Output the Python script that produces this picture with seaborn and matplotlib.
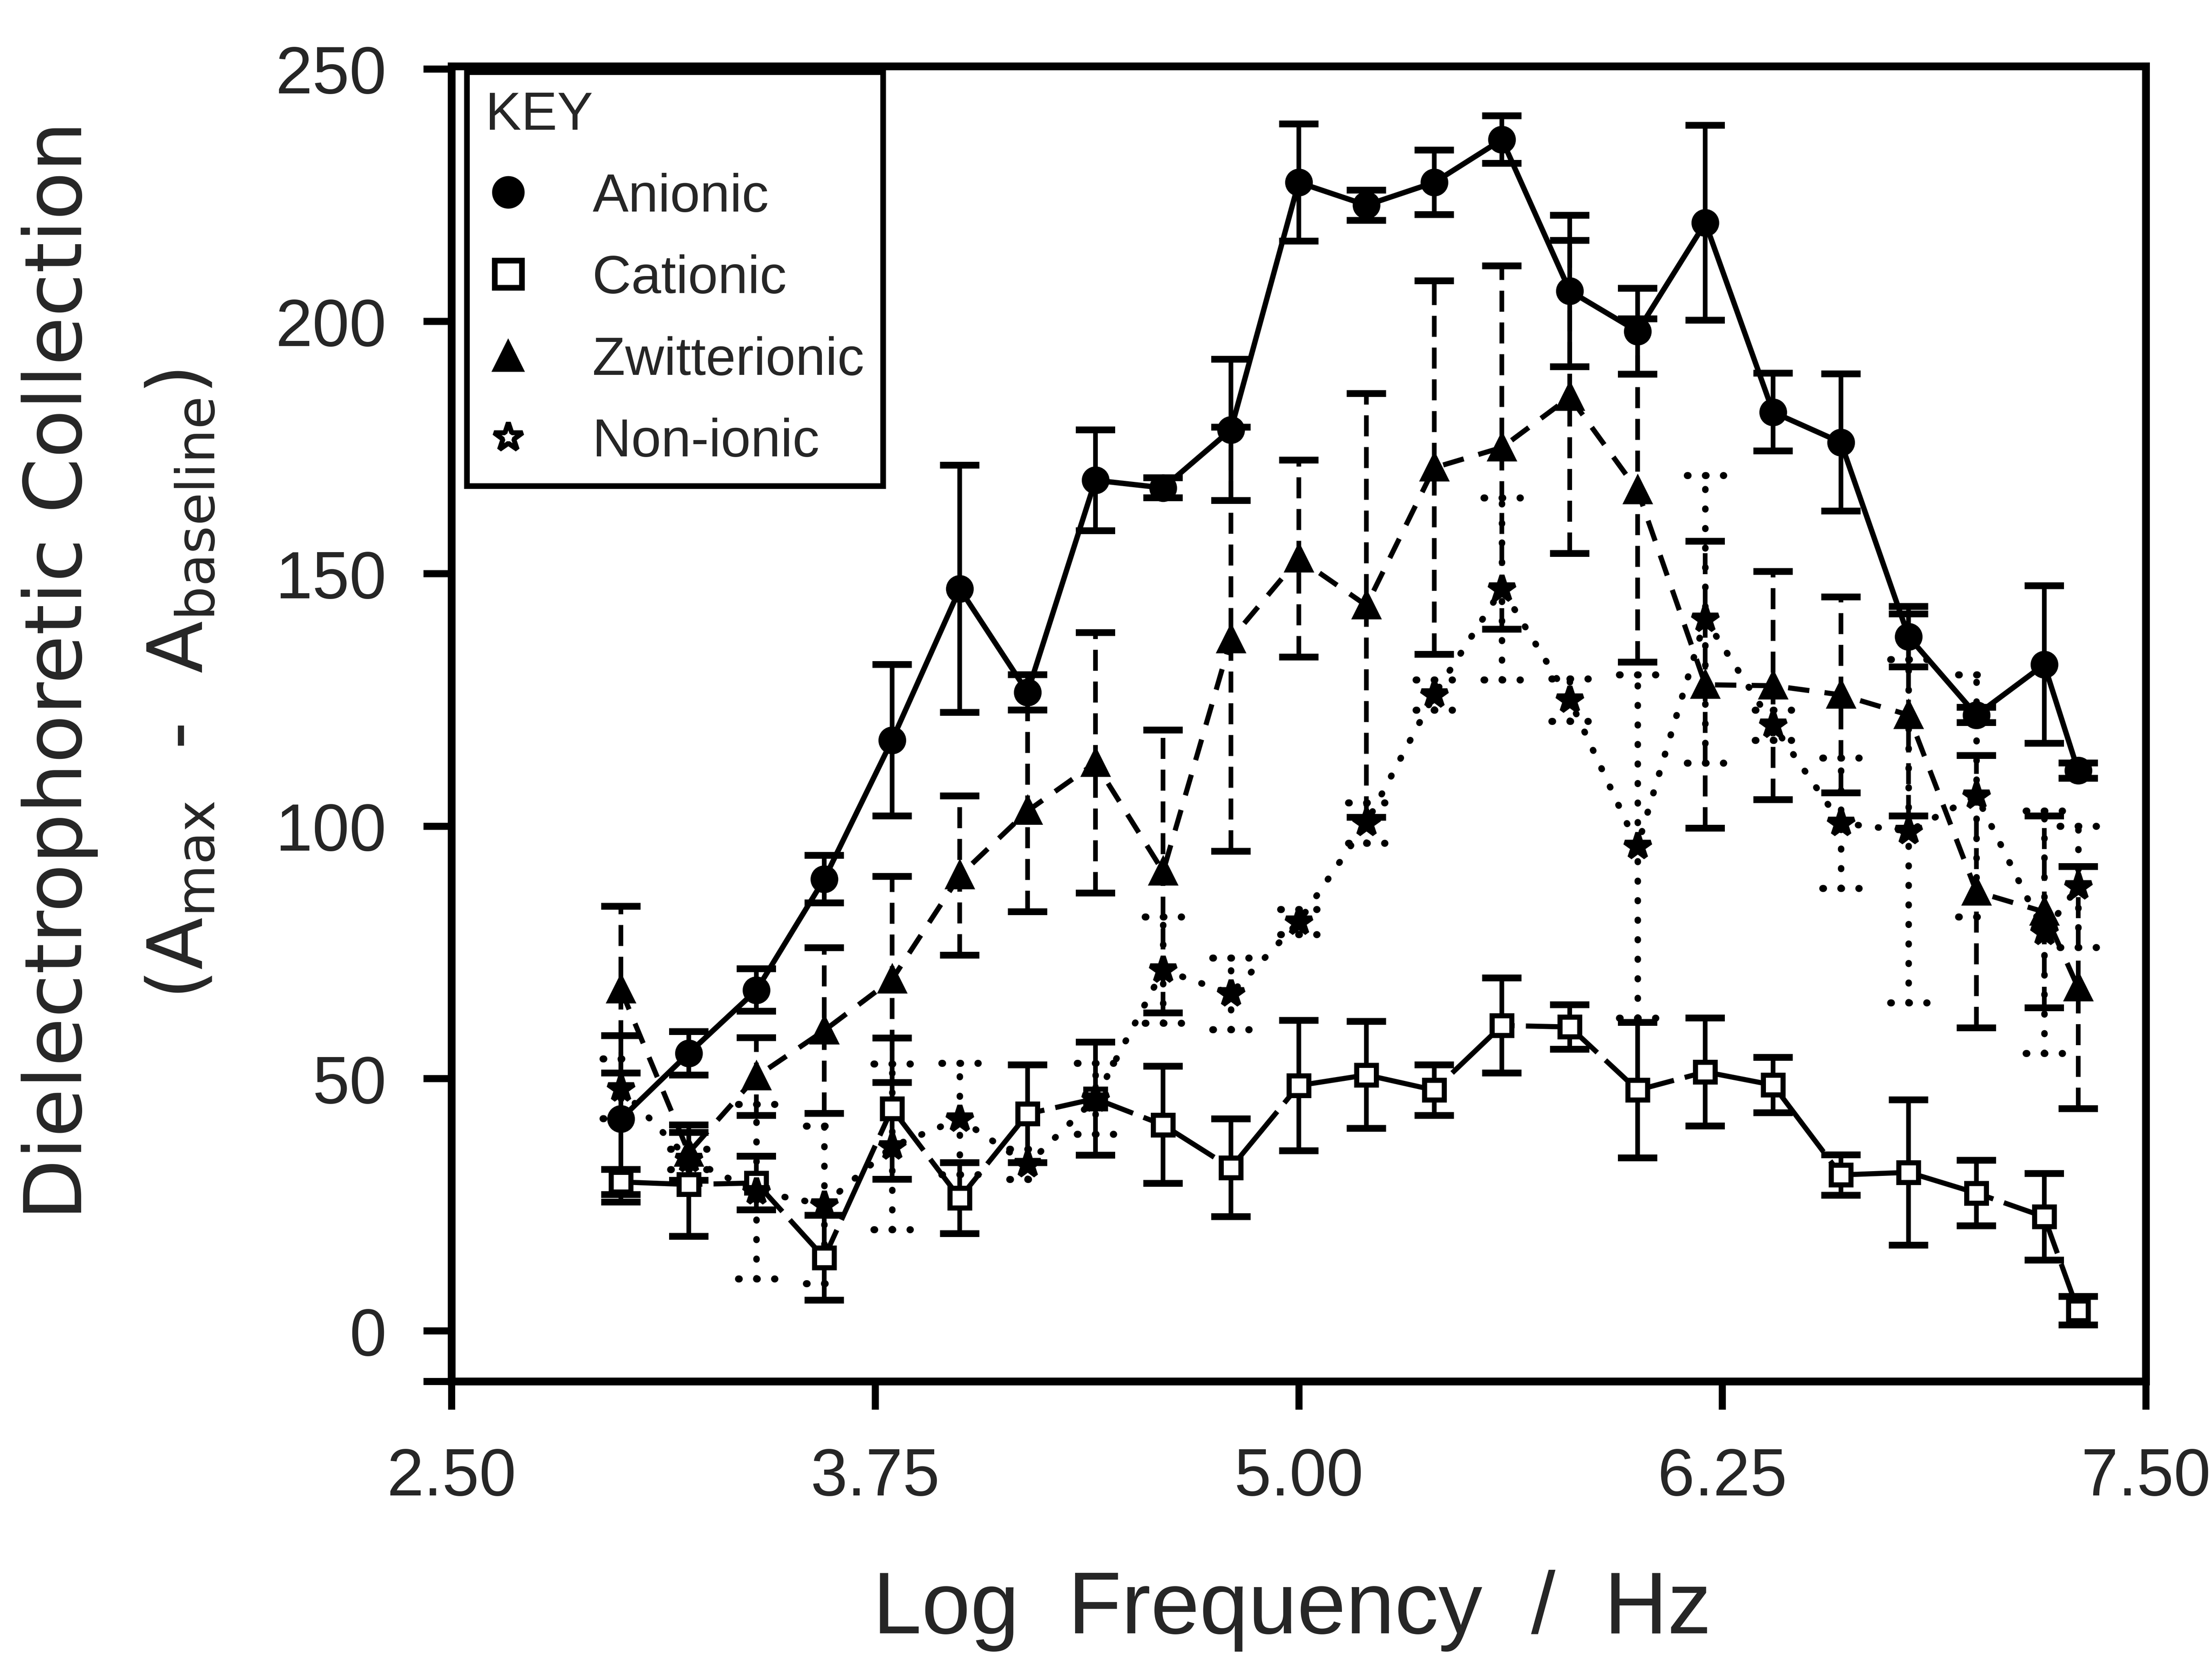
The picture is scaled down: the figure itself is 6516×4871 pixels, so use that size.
import numpy as np
import pandas as pd
import matplotlib
matplotlib.use("Agg")
import matplotlib.pyplot as plt
from matplotlib.lines import Line2D
import seaborn as sns

# === data ===
log_freq = [3.0, 3.2, 3.4, 3.6, 3.8, 4.0, 4.2, 4.4, 4.6, 4.8, 5.0, 5.2,
            5.4, 5.6, 5.8, 6.0, 6.2, 6.4, 6.6, 6.8, 7.0, 7.2, 7.3]

anionic = [42, 55, 67.5, 89.5, 117, 147, 126.5, 168.5, 167, 178.5, 227.5, 223,
           227.5, 236, 206, 198, 219.5, 182, 176, 137.5, 122, 132, 111]
anionic_err = [16.5, 4.3, 4.2, 4.7, 15, 24.5, 3.5, 10, 2, 14, 11.6, 3,
               6.4, 4.7, 15, 8.5, 19.3, 7.7, 13.6, 6, 1.5, 15.6, 1.5]

cationic = [29.5, 29, 29.3, 14.5, 44, 26.3, 43, 46, 40.8, 32.3, 48.6, 50.7,
            47.7, 60.5, 60.2, 47.7, 51.3, 48.7, 30.9, 31.4, 27.3, 22.6, 4.0]
cationic_err = [2.5, 10.3, 5.3, 8.4, 14, 7, 9.7, 11.2, 11.6, 9.7, 12.9, 10.6,
                5, 9.4, 4.4, 13.4, 10.7, 5.5, 4, 14.4, 6.5, 8.6, 2.8]

zwitterionic = [67.6, 35.3, 50.4, 59.5, 69.6, 90.2, 103, 112.5, 91, 137, 153, 143.7,
                171, 175, 185, 166.5, 128, 127.8, 126, 122, 87, 83, 68]
zwitterionic_err = [16.5, 5.5, 7.7, 16.4, 20.4, 15.8, 20, 25.8, 28, 42, 19.5, 42,
                    37, 36, 31, 34, 28.4, 22.6, 19.4, 20, 27, 19, 24]

nonionic = [48, 34, 27.6, 25, 36.5, 42, 33, 46, 71.5, 66.8, 81, 100.6,
            126, 147, 125, 96, 141, 120, 100.6, 99, 106, 79, 88]
nonionic_err = [5.9, 2, 17.3, 15.6, 16.4, 11, 3, 7, 10.5, 7.1, 2.5, 4,
                3, 18, 4.2, 34, 28.5, 3, 12.9, 34, 24, 24, 12]

series_names = ["Anionic", "Cationic", "Zwitterionic", "Non-ionic"]
series_vals = [anionic, cationic, zwitterionic, nonionic]
series_errs = [anionic_err, cationic_err, zwitterionic_err, nonionic_err]

xticks = [2.50, 3.75, 5.00, 6.25, 7.50]
yticks = [0, 50, 100, 150, 200, 250]

# long table
frames = []
for name, vals, errs in zip(series_names, series_vals, series_errs):
    frames.append(pd.DataFrame({"log_freq": log_freq, "collection": vals,
                                "err": errs, "surfactant": name}))
df = pd.concat(frames, ignore_index=True)

# === style ===
sns.set_style("ticks")
plt.rcParams["font.family"] = ["Liberation Sans", "DejaVu Sans"]

styles = {
    "Anionic": dict(marker="o", ms=16, mfc="black", ls="-", lw=3.8,
                    eb_ls="-", capsize=14),
    "Cationic": dict(marker="s", ms=14, mfc="white", ls=(0, (16, 2.2)), lw=3.6,
                     eb_ls="-", capsize=14),
    "Zwitterionic": dict(marker="^", ms=16, mfc="black", ls=(0, (4.2, 3)), lw=3.6,
                         eb_ls=(0, (4.5, 2.3)), capsize=14),
    "Non-ionic": dict(marker="*", ms=19, mfc="black", ls=(0, (0.1, 3.0)), lw=4.6,
                      eb_ls=(0, (0.1, 2.9)), capsize=0),
}

fig = plt.figure(figsize=(21.72, 16.24), dpi=300)
ax = fig.add_axes([0.2041, 0.1648, 0.7660, 0.7949])

for name in series_names:
    st = styles[name]
    sub = df[df["surfactant"] == name]
    eb = ax.errorbar(sub["log_freq"], sub["collection"], yerr=sub["err"],
                     fmt="none", ecolor="black", elinewidth=3.3,
                     capsize=st["capsize"], capthick=4.8, zorder=2)
    eb[2][0].set_linestyle(st["eb_ls"])
    if name == "Non-ionic":
        eb[2][0].set_linewidth(4.6)
        eb[2][0].set_capstyle("round")
        # dotted caps
        cap_y = np.concatenate([sub["collection"] - sub["err"],
                                sub["collection"] + sub["err"]])
        cap_x = np.concatenate([sub["log_freq"], sub["log_freq"]])
        ax.hlines(cap_y, cap_x - 0.0535, cap_x + 0.0535, colors="black",
                  linewidth=5, linestyles=[(0, (0.1, 2.45))],
                  capstyle="round", zorder=2)
    sns.lineplot(data=sub, x="log_freq", y="collection", ax=ax,
                 color="black", linewidth=st["lw"], linestyle=st["ls"],
                 dash_capstyle="round" if name == "Non-ionic" else "butt",
                 marker=st["marker"], markersize=st["ms"],
                 markerfacecolor=st["mfc"], markeredgecolor="black",
                 markeredgewidth=3.6, errorbar=None, legend=False,
                 sort=True, zorder=3)

ax.set_xlim(2.5, 7.5)
ax.set_ylim(-10, 250.5)
ax.set_xticks(xticks)
ax.set_xticklabels([f"{t:.2f}" for t in xticks])
ax.set_yticks(yticks)
ax.set_yticks([-10], minor=True)
ax.set_xlabel("")
ax.set_ylabel("")
ax.tick_params(which="both", direction="out", length=20, width=5,
               pad=26, labelsize=47, color="black")
ax.tick_params(axis="x", which="minor", bottom=False)
for s in ax.spines.values():
    s.set_visible(True)
    s.set_linewidth(5.5)
    s.set_color("black")

# legend ("KEY")
handles = [
    Line2D([], [], ls="none", marker="o", ms=22, mfc="black", mec="black"),
    Line2D([], [], ls="none", marker="s", ms=19, mfc="white", mec="black", mew=4),
    Line2D([], [], ls="none", marker="^", ms=22, mfc="black", mec="black"),
    Line2D([], [], ls="none", marker="*", ms=21, mfc="white", mec="black", mew=3.5),
]
leg = ax.legend(handles, series_names, title="KEY", loc="upper left",
                bbox_to_anchor=(0.009, 0.9957), borderaxespad=0, frameon=True,
                fancybox=False, edgecolor="black", framealpha=1,
                borderpad=0.35, labelspacing=0.59, handlelength=0.84,
                handletextpad=1.15, fontsize=38, title_fontsize=38,
                alignment="left")
leg.get_frame().set_linewidth(4)
leg.set_zorder(10)

# axis titles
fig.text(0.0270, 0.5947, "Dielectrophoretic Collection", rotation=90,
         ha="center", va="center", fontsize=56, family="DejaVu Sans")
fig.text(0.0820, 0.5860, r"(A$_{\mathrm{max}}$  -  A$_{\mathrm{baseline}}$)",
         rotation=90, ha="center", va="center", fontsize=54, family="DejaVu Sans")
fig.text(0.5842, 0.0128, "Log  Frequency  /  Hz", ha="center", va="baseline",
         fontsize=62)

fig.savefig("out.png", dpi=300, facecolor="white")
